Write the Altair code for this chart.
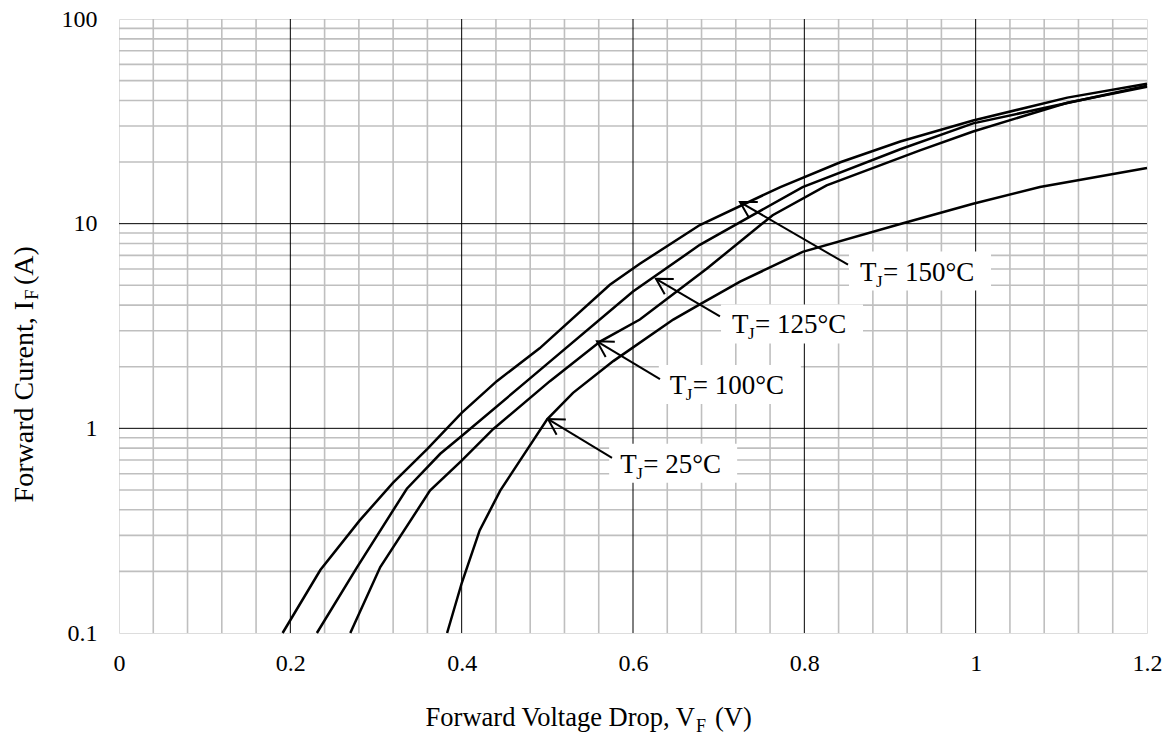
import math
import altair as alt
import pandas as pd

# ---------------- data ----------------
v150 = [0.191, 0.235, 0.281, 0.320, 0.360, 0.400, 0.441, 0.491, 0.573, 0.608, 0.678, 0.772, 0.842, 0.912, 0.997, 1.107, 1.2]
i150 = [0.1, 0.203, 0.355, 0.543, 0.794, 1.19, 1.70, 2.46, 5.03, 6.37, 9.85, 15.1, 19.95, 25.2, 31.9, 41.3, 48.3]

v125 = [0.231, 0.278, 0.336, 0.375, 0.400, 0.476, 0.600, 0.678, 0.798, 0.912, 0.997, 1.2]
i125 = [0.1, 0.21, 0.507, 0.751, 0.918, 1.70, 4.66, 7.88, 15.1, 23.1, 30.9, 47.2]

v100 = [0.270, 0.305, 0.363, 0.400, 0.437, 0.503, 0.562, 0.608, 0.686, 0.763, 0.826, 0.935, 0.997, 1.107, 1.2]
i100 = [0.1, 0.21, 0.496, 0.695, 0.993, 1.70, 2.66, 3.40, 6.02, 11.0, 15.4, 22.8, 28.2, 39.0, 46.7]

v25 = [0.383, 0.400, 0.421, 0.445, 0.468, 0.500, 0.530, 0.577, 0.647, 0.678, 0.725, 0.798, 0.912, 0.997, 1.075, 1.2]
i25 = [0.1, 0.175, 0.317, 0.496, 0.695, 1.11, 1.49, 2.13, 3.40, 4.03, 5.21, 7.28, 9.97, 12.5, 15.1, 18.7]

x_ticks = [0, 0.2, 0.4, 0.6, 0.8, 1, 1.2]
y_ticks = [0.1, 1, 10, 100]
x_major = [0.2, 0.4, 0.6, 0.8, 1.0]
x_minor = [0.04, 0.08, 0.12, 0.16, 0.24, 0.28, 0.32, 0.36, 0.44, 0.48, 0.52, 0.56,
           0.64, 0.68, 0.72, 0.76, 0.84, 0.88, 0.92, 0.96, 1.04, 1.08, 1.12, 1.16]
y_major = [1, 10]
y_minor = [0.2, 0.3, 0.4, 0.5, 0.6, 0.7, 0.8, 0.9, 2, 3, 4, 5, 6, 7, 8, 9,
           20, 30, 40, 50, 60, 70, 80, 90]

# annotation labels: temperature, label anchor (V, I), arrow tail (V, I), arrow head (V, I)
lab_temp = ["150", "125", "100", "25"]
lab_v = [0.865, 0.7156, 0.643, 0.585]
lab_i = [5.27, 2.91, 1.47, 0.607]
arr_tail_v = [0.851, 0.7015, 0.6315, 0.5755]
arr_tail_i = [6.30, 3.52, 1.74, 0.718]
arr_head_v = [0.7249, 0.6268, 0.558, 0.5008]
arr_head_i = [12.75, 5.38, 2.66, 1.11]

# ---------------- layout ----------------
W, H = 1028, 614
PPV = W / 1.2        # pixels per volt
PPD = H / 3.0        # pixels per decade
FONT = "Liberation Serif"

xs = alt.Scale(domain=[0, 1.2], nice=False, zero=False)
ys = alt.Scale(type="log", domain=[0.1, 100], nice=False)

x_axis = alt.Axis(values=x_ticks, format="~g", title=None, grid=False, ticks=False,
                  domain=False, labelFont=FONT, labelFontSize=24, labelColor="black",
                  labelPadding=18, labelFlush=False, labelOverlap=False)
y_axis = alt.Axis(values=y_ticks, format="~g", title=None, grid=False, ticks=False,
                  domain=False, labelFont=FONT, labelFontSize=24, labelColor="black",
                  labelPadding=22, labelFlush=False, labelOverlap=False)


def X(field):
    return alt.X(field, type="quantitative", scale=xs, axis=x_axis)


def Y(field):
    return alt.Y(field, type="quantitative", scale=ys, axis=y_axis)


# grid
minor_x = alt.Chart(pd.DataFrame({"v": x_minor})).mark_rule(color="#bfbfbf", strokeWidth=1.6).encode(x=X("v"))
minor_y = alt.Chart(pd.DataFrame({"i": y_minor})).mark_rule(color="#bfbfbf", strokeWidth=1.6).encode(y=Y("i"))
major_x = alt.Chart(pd.DataFrame({"v": x_major})).mark_rule(color="black", strokeWidth=1).encode(x=X("v"))
major_y = alt.Chart(pd.DataFrame({"i": y_major})).mark_rule(color="black", strokeWidth=1).encode(y=Y("i"))

# curves
rows = []
for t, vv, ii in [("150", v150, i150), ("125", v125, i125), ("100", v100, i100), ("25", v25, i25)]:
    for a, b in zip(vv, ii):
        rows.append({"T": t, "V": a, "I": b})
curves_df = pd.DataFrame(rows)
curves = alt.Chart(curves_df).mark_line(color="black", strokeWidth=2.5, interpolate="linear").encode(
    x=X("V"), y=Y("I"), detail="T:N")

# label boxes and texts
lab_rows = []
for t, lv, li in zip(lab_temp, lab_v, lab_i):
    textw = 118 if len(t) == 3 else 104
    lab_rows.append({
        "T": t, "V": lv, "I": li,
        "bx": lv - 11 / PPV, "bx2": lv + (textw + 13) / PPV,
        "by": li * 10 ** (29 / PPD), "by2": li / 10 ** (10 / PPD),
        "rest": "= " + t + "\u00b0C",
    })
lab_df = pd.DataFrame(lab_rows)

boxes = alt.Chart(lab_df).mark_rect(color="white").encode(
    x=X("bx"), x2="bx2", y=Y("by"), y2="by2")
txt_T = alt.Chart(lab_df).mark_text(font=FONT, fontSize=27, align="left", baseline="alphabetic",
                                    color="black").encode(x=X("V"), y=Y("I"), text=alt.value("T"))
txt_J = alt.Chart(lab_df).mark_text(font=FONT, fontSize=17, align="left", baseline="alphabetic",
                                    color="black", dx=16, dy=6).encode(x=X("V"), y=Y("I"), text=alt.value("J"))
txt_rest = alt.Chart(lab_df).mark_text(font=FONT, fontSize=27, align="left", baseline="alphabetic",
                                       color="black", dx=23).encode(x=X("V"), y=Y("I"), text="rest:N")

# arrows
arr_rows = []
for tv, ti, hv, hi in zip(arr_tail_v, arr_tail_i, arr_head_v, arr_head_i):
    dx = (hv - tv) * PPV
    dy = -(math.log10(hi) - math.log10(ti)) * PPD
    ang = math.degrees(math.atan2(dy, dx)) % 360
    arr_rows.append({"tv": tv, "ti": ti, "hv": hv, "hi": hi, "ang": ang})
arr_df = pd.DataFrame(arr_rows)
shafts = alt.Chart(arr_df).mark_rule(color="black", strokeWidth=2).encode(
    x=X("tv"), y=Y("ti"), x2="hv", y2="hi")
heads = alt.Chart(arr_df).mark_point(shape="M-1,-0.577L0,0L-1,0.577", filled=False, size=950,
                                     strokeWidth=2, color="black", opacity=1).encode(
    x=X("hv"), y=Y("hi"), angle=alt.Angle("ang:Q", scale=None))

# axis titles with subscripts (placed outside the plot area)
TS = 26.5
TY = 28
one = pd.DataFrame({"k": [0]})
xt1 = alt.Chart(one).mark_text(font=FONT, fontSize=TS, align="right", baseline="alphabetic", color="black").encode(
    x=alt.value(576), y=alt.value(707), text=alt.value("Forward Voltage Drop, V"))
xt2 = alt.Chart(one).mark_text(font=FONT, fontSize=18, align="left", baseline="alphabetic", color="black").encode(
    x=alt.value(577), y=alt.value(713), text=alt.value("F"))
xt3 = alt.Chart(one).mark_text(font=FONT, fontSize=TS, align="left", baseline="alphabetic", color="black").encode(
    x=alt.value(596), y=alt.value(707), text=alt.value("(V)"))
yt1 = alt.Chart(one).mark_text(font=FONT, fontSize=TY, align="right", baseline="alphabetic", color="black",
                               angle=270).encode(
    x=alt.value(-86), y=alt.value(282), text=alt.value("Forward Curent, I"))
yt2 = alt.Chart(one).mark_text(font=FONT, fontSize=19, align="left", baseline="alphabetic", color="black",
                               angle=270).encode(
    x=alt.value(-81), y=alt.value(281), text=alt.value("F"))
yt3 = alt.Chart(one).mark_text(font=FONT, fontSize=TY, align="left", baseline="alphabetic", color="black",
                               angle=270).encode(
    x=alt.value(-86), y=alt.value(266), text=alt.value("(A)"))

chart = alt.layer(
    minor_x, minor_y, major_x, major_y, boxes, curves, shafts, heads,
    txt_T, txt_J, txt_rest, xt1, xt2, xt3, yt1, yt2, yt3
).properties(
    width=W, height=H, autosize="none",
    padding={"left": 111, "top": 11, "right": 16, "bottom": 104},
).configure_view(stroke="black", strokeWidth=2.5).configure(background="white")

chart.save("out.html", embed_options={"renderer": "svg", "actions": False})
